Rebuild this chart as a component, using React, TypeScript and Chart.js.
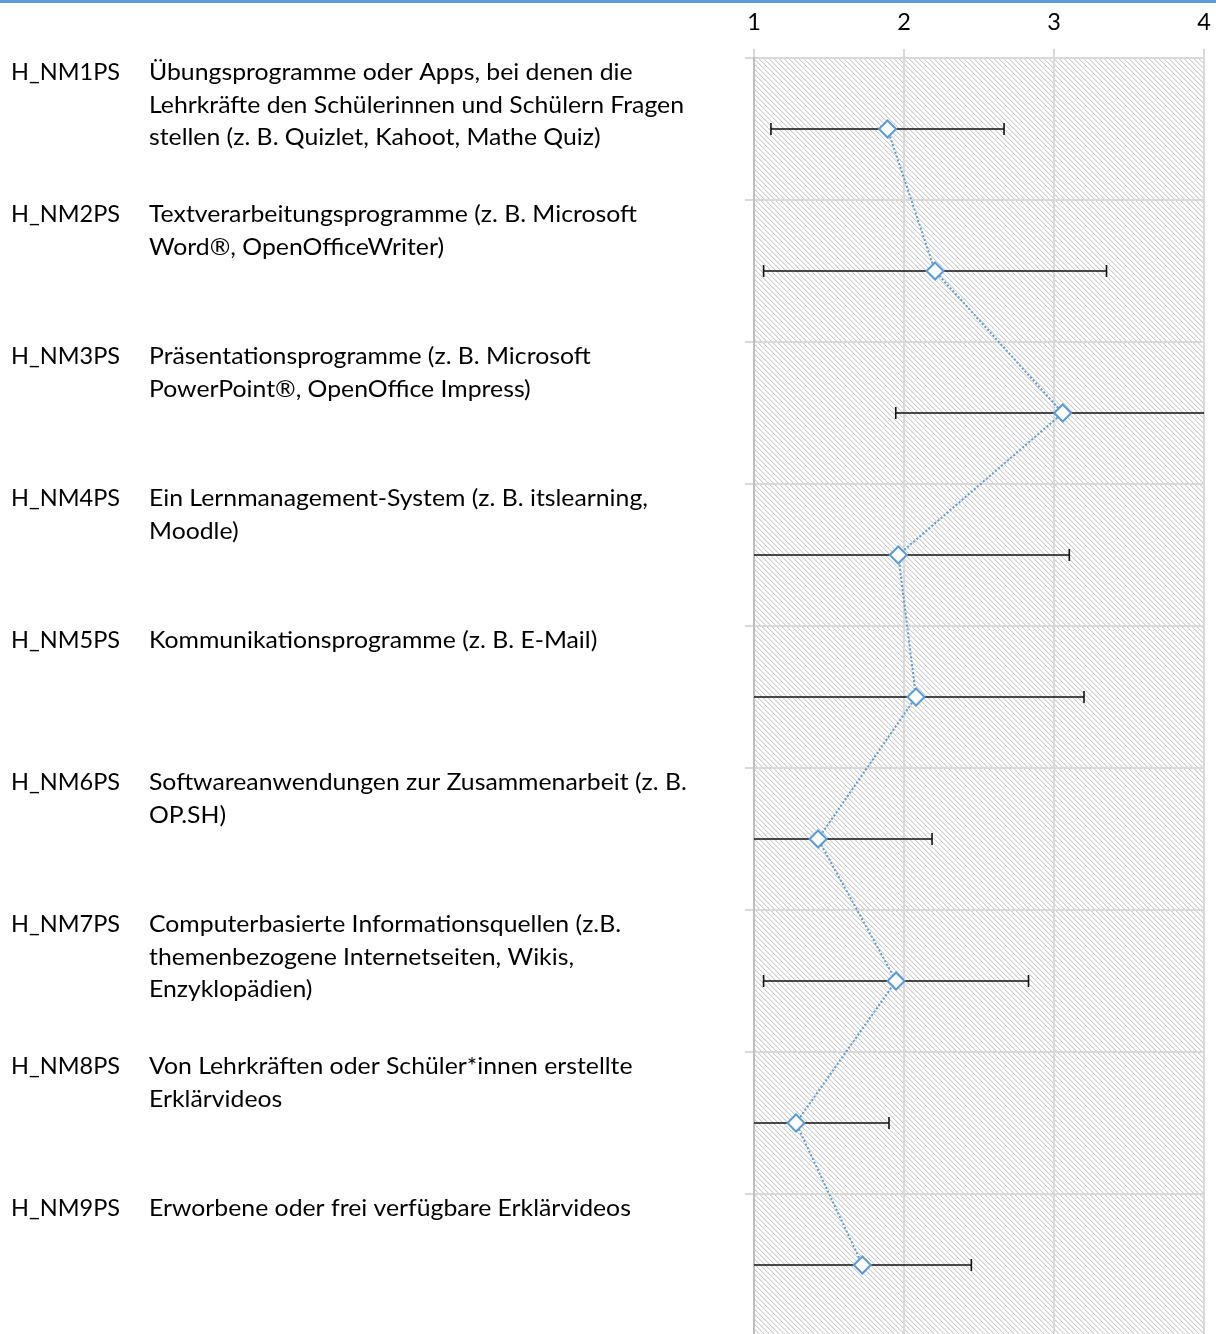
import React, { useEffect, useRef } from "react";
import { Chart, registerables } from "chart.js";

Chart.register(...registerables);

// Item codes (one row each, top to bottom)
const codes = [
  "H_NM1PS",
  "H_NM2PS",
  "H_NM3PS",
  "H_NM4PS",
  "H_NM5PS",
  "H_NM6PS",
  "H_NM7PS",
  "H_NM8PS",
  "H_NM9PS",
];

// Item wording, already broken into lines
const descriptions: string[][] = [
  [
    "Übungsprogramme oder Apps, bei denen die",
    "Lehrkräfte den Schülerinnen und Schülern Fragen",
    "stellen (z. B. Quizlet, Kahoot, Mathe Quiz)",
  ],
  ["Textverarbeitungsprogramme (z. B. Microsoft", "Word®, OpenOfficeWriter)"],
  ["Präsentationsprogramme (z. B. Microsoft", "PowerPoint®, OpenOffice Impress)"],
  ["Ein Lernmanagement-System (z. B. itslearning,", "Moodle)"],
  ["Kommunikationsprogramme (z. B. E-Mail)"],
  ["Softwareanwendungen zur Zusammenarbeit (z. B.", "OP.SH)"],
  [
    "Computerbasierte Informationsquellen (z.B.",
    "themenbezogene Internetseiten, Wikis,",
    "Enzyklopädien)",
  ],
  ["Von Lehrkräften oder Schüler*innen erstellte", "Erklärvideos"],
  ["Erworbene oder frei verfügbare Erklärvideos"],
];

// Mean per item and its standard deviation (error bar half-length)
const means = [1.89, 2.207, 3.058, 1.962, 2.08, 1.427, 1.947, 1.28, 1.722];
const sds = [0.777, 1.143, 1.113, 1.14, 1.12, 0.76, 0.883, 0.62, 0.727];

// Scale labels along the top
const xTicks = [1, 2, 3, 4];

const WIDTH = 1216;
const CANVAS_HEIGHT = 1336;
const VIEW_HEIGHT = 1334;
const FONT_FAMILY = "Lato, 'Open Sans', sans-serif";
const FONT_SIZE = 22.5;
const BLUE = "#5b9bd5";
const GRID = "#d9d9d9";
const WIDEST_LINE_PX = 535;
const CODE_PX = 109;

function makeHatch(ctx: CanvasRenderingContext2D): CanvasPattern | string {
  const tile = document.createElement("canvas");
  tile.width = 5;
  tile.height = 5;
  const p = tile.getContext("2d");
  if (!p) return "#eeeeee";
  p.fillStyle = "#ffffff";
  p.fillRect(0, 0, 5, 5);
  for (let y = 0; y < 5; y++) {
    p.fillStyle = "#cdcdcd";
    p.fillRect(y % 5, y, 1, 1);
    p.fillStyle = "#ebebeb";
    p.fillRect((y + 1) % 5, y, 1, 1);
  }
  return ctx.createPattern(tile, "repeat") || "#eeeeee";
}

const hatchPlugin = {
  id: "hatchBackground",
  beforeDraw(chart: any) {
    const { ctx, chartArea } = chart;
    ctx.save();
    ctx.fillStyle = makeHatch(ctx);
    ctx.fillRect(
      chartArea.left,
      chartArea.top,
      chartArea.right - chartArea.left,
      chartArea.bottom - chartArea.top
    );
    ctx.restore();
  },
};

const errorBarPlugin = {
  id: "errorBars",
  beforeDatasetsDraw(chart: any) {
    const { ctx, chartArea } = chart;
    const xs = chart.scales.x;
    const ys = chart.scales.y;
    ctx.save();
    ctx.beginPath();
    ctx.rect(chartArea.left, chartArea.top, chartArea.right - chartArea.left, chartArea.bottom - chartArea.top);
    ctx.clip();
    ctx.strokeStyle = "#111111";
    ctx.lineWidth = 1.6;
    const cap = 6;
    means.forEach((m, i) => {
      const y = ys.getPixelForValue(i);
      const lo = m - sds[i];
      const hi = m + sds[i];
      const x0 = xs.getPixelForValue(lo);
      const x1 = xs.getPixelForValue(hi);
      ctx.beginPath();
      ctx.moveTo(x0, y);
      ctx.lineTo(x1, y);
      if (lo >= xs.min) {
        ctx.moveTo(x0, y - cap);
        ctx.lineTo(x0, y + cap);
      }
      if (hi <= xs.max) {
        ctx.moveTo(x1, y - cap);
        ctx.lineTo(x1, y + cap);
      }
      ctx.stroke();
    });
    ctx.restore();
  },
};

const labelPlugin = {
  id: "itemLabels",
  afterDraw(chart: any) {
    const { ctx } = chart;
    const ys = chart.scales.y;
    ctx.save();
    ctx.font = `${FONT_SIZE}px ${FONT_FAMILY}`;
    ctx.fillStyle = "#000000";
    ctx.textBaseline = "alphabetic";
    ctx.textAlign = "left";
    const sx = WIDEST_LINE_PX / (ctx.measureText(descriptions[0][1]).width || WIDEST_LINE_PX);
    const sxCode = CODE_PX / (ctx.measureText(codes[0]).width || CODE_PX);
    const lineGap = 32.7;
    const draw = (text: string, x: number, y: number, s: number) => {
      ctx.save();
      ctx.translate(x, y);
      ctx.scale(s, 1);
      ctx.fillText(text, 0, 0);
      ctx.restore();
    };
    codes.forEach((code, i) => {
      const base = ys.getPixelForValue(i) - 49;
      draw(code, 11, base, sxCode);
      descriptions[i].forEach((line, k) => draw(line, 149, base + k * lineGap, sx));
    });
    // accent rule along the top edge
    ctx.fillStyle = BLUE;
    ctx.fillRect(0, 0, WIDTH, 3);
    ctx.restore();
  },
};

export default function App() {
  const canvasRef = useRef<HTMLCanvasElement | null>(null);

  useEffect(() => {
    document.body.style.margin = "0";
    const canvas = canvasRef.current;
    if (!canvas) return;
    const chart = new Chart(canvas, {
      type: "line",
      data: {
        labels: codes,
        datasets: [
          {
            data: means.map((m, i) => ({ x: m, y: codes[i] })),
            borderColor: BLUE,
            borderWidth: 2,
            borderDash: [2, 2],
            backgroundColor: "#ffffff",
            pointStyle: "rectRot",
            pointRadius: 8.5,
            pointBorderWidth: 2,
            pointBackgroundColor: "#ffffff",
            pointBorderColor: BLUE,
            tension: 0,
            fill: false,
          },
        ],
      },
      options: {
        animation: false,
        responsive: false,
        maintainAspectRatio: false,
        devicePixelRatio: 1,
        layout: { autoPadding: false, padding: { left: 745, right: 12, top: 0, bottom: 0 } },
        plugins: { legend: { display: false }, tooltip: { enabled: false } },
        events: [],
        scales: {
          x: {
            type: "linear",
            position: "top",
            min: xTicks[0],
            max: xTicks[xTicks.length - 1],
            afterBuildTicks: (scale: any) => {
              scale.ticks = xTicks.map((v) => ({ value: v }));
            },
            afterFit: (scale: any) => {
              scale.height = 58;
              scale.paddingLeft = 0;
              scale.paddingRight = 0;
            },
            grid: { color: GRID, lineWidth: 2, tickLength: 9, drawTicks: true },
            border: { display: true, color: GRID, width: 2 },
            ticks: {
              color: "#000000",
              padding: 12,
              font: { family: FONT_FAMILY, size: 23.5 },
              maxRotation: 0,
            },
          },
          y: {
            type: "category",
            labels: codes,
            offset: true,
            afterFit: (scale: any) => {
              scale.width = 9;
              scale.paddingTop = 0;
              scale.paddingBottom = 0;
            },
            grid: { color: GRID, lineWidth: 2, tickLength: 9, offset: true, drawTicks: true },
            border: { display: true, color: "#bfbfbf", width: 2 },
            ticks: { display: false },
          },
        },
      },
      plugins: [hatchPlugin, errorBarPlugin, labelPlugin],
    } as any);
    return () => chart.destroy();
  }, []);

  return (
    <div
      style={{
        position: "fixed",
        left: 0,
        top: 0,
        width: WIDTH,
        height: VIEW_HEIGHT,
        overflow: "hidden",
        background: "#ffffff",
      }}
    >
      <canvas
        ref={canvasRef}
        width={WIDTH}
        height={CANVAS_HEIGHT}
        style={{ display: "block", width: WIDTH, height: CANVAS_HEIGHT }}
      />
    </div>
  );
}
